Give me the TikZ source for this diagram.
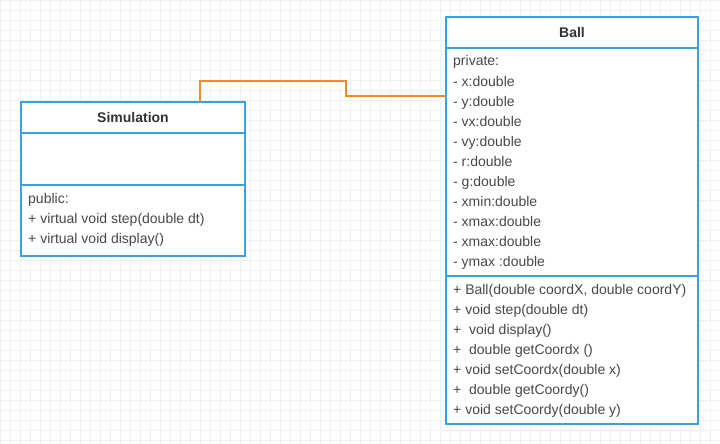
\documentclass[tikz,border=0pt]{standalone}
\usepackage{fontspec}
\setmainfont{Liberation Sans}
\usepackage{tikz}
\definecolor{umlblue}{RGB}{57,162,219}
\definecolor{assoc}{RGB}{241,140,36}
\definecolor{txt}{RGB}{72,72,72}
\definecolor{gridgray}{RGB}{240,240,240}
\begin{document}
\begin{tikzpicture}
			[x=1pt,y=-1pt, every node/.style={font=\fontsize{14}{16}\selectfont},
			box/.style={draw=umlblue, line width=2pt, fill=white, rectangle, inner sep=0pt, outer sep=0pt, anchor=north west},
			title/.style={font=\fontsize{14}{16}\selectfont\bfseries, text=black!80},
			member/.style={anchor=base west, inner sep=0pt, text=txt},
			link/.style={draw=assoc, line width=2pt}]
			\useasboundingbox (0,0) rectangle (720,444);
			\draw[gridgray, line width=0.5pt] (0,0) grid[step=10pt] (720,444);
			% Simulation
			\node[box, minimum width=224pt, minimum height=31pt] (sim) at (21,102) {};
			\node[title] at (sim.center) {Simulation};
			\node[box, minimum width=224pt, minimum height=52pt] (simattr) at (sim.south west) {};
			\node[box, minimum width=224pt, minimum height=71pt] (simops) at (simattr.south west) {};
			\foreach \txt [count=\i from 0] in {public:, + virtual void step(double dt), + virtual void display()}
				\node[member, xshift=7pt, yshift={-18pt-\i*20pt}] at (simops.north west) {\txt};
			% Ball
			\node[box, minimum width=252pt, minimum height=31pt] (ball) at (446,17) {};
			\node[title] at (ball.center) {Ball};
			\node[box, minimum width=252pt, minimum height=228pt] (ballattr) at (ball.south west) {};
			\node[box, minimum width=252pt, minimum height=148pt] (ballops) at (ballattr.south west) {};
			\foreach \txt [count=\i from 0] in {private:, - x:double, - y:double, - vx:double, - vy:double,
				- r:double, - g:double, - xmin:double, - xmax:double, - xmax:double, - ymax :double}
				\node[member, xshift=7pt, yshift={-18pt-\i*20pt}] at (ballattr.north west) {\txt};
			\foreach \txt [count=\i from 0] in {{+ Ball(double coordX, double coordY)}, + void step(double dt),
				+\ \ void display(), +\ \ double getCoordx (), + void setCoordx(double x),
				+\ \ double getCoordy(), + void setCoordy(double y)}
				\node[member, xshift=7pt, yshift={-18pt-\i*20pt}] at (ballops.north west) {\txt};
			% association
			\coordinate (elbow) at (346,81);
			\draw[link] ([xshift=179pt]sim.north west) |- (elbow) |- ([yshift=-48pt]ballattr.north west);
		\end{tikzpicture}
\end{document}
